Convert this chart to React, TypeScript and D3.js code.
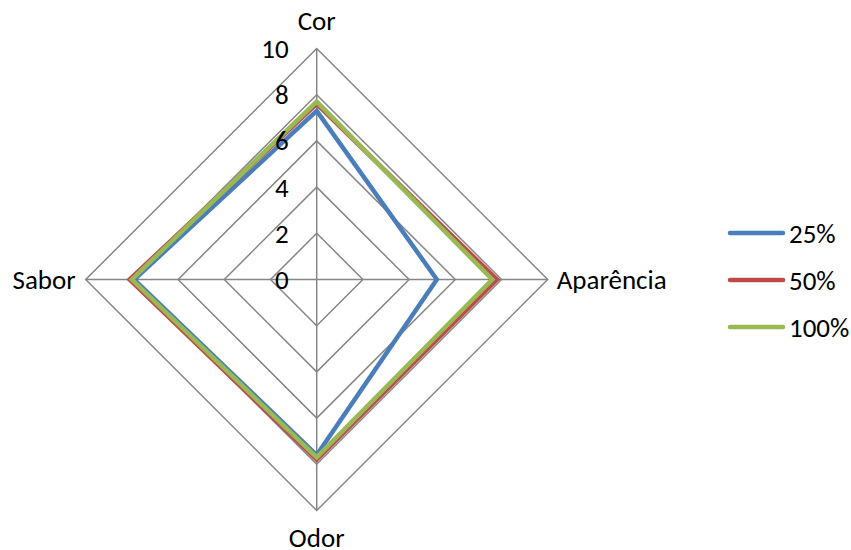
import React from "react";
import * as d3 from "d3";

const axes = ["Cor", "Aparência", "Odor", "Sabor"];
const seriesNames = ["25%", "50%", "100%"];
const values25 = [7.3, 5.2, 7.6, 7.9];
const values50 = [7.6, 7.8, 7.8, 8.1];
const values100 = [7.7, 7.6, 7.7, 8.0];
const ticks = [0, 2, 4, 6, 8, 10];
const colors = ["#4A7EBB", "#BE4B48", "#98B954"];

const W = 851;
const H = 550;
const cx = 316.7;
const cy = 279.5;
const R = 231;
const font = "Carlito, Calibri, 'Open Sans', sans-serif";
const fs = 27;

export default function App() {
  const r = d3.scaleLinear().domain([0, 10]).range([0, R]);
  const angle = (i: number) => (i * 2 * Math.PI) / axes.length;
  const pt = (i: number, v: number): [number, number] => [
    cx + r(v) * Math.sin(angle(i)),
    cy - r(v) * Math.cos(angle(i)),
  ];
  const closed = d3.line<[number, number]>().curve(d3.curveLinearClosed);
  const all = [values25, values50, values100];

  return (
    <svg width={W} height={H} style={{ position: "absolute", left: 0, top: 0 }}>
      <rect width={W} height={H} fill="#fff" />
      {ticks.filter((t) => t > 0).map((t) => (
        <path
          key={t}
          d={closed(axes.map((_, i) => pt(i, t))) || ""}
          fill="none"
          stroke="#868686"
          strokeWidth={1.5}
        />
      ))}
      {axes.map((_, i) => {
        const [x, y] = pt(i, 10);
        return <line key={i} x1={cx} y1={cy} x2={x} y2={y} stroke="#868686" strokeWidth={1.5} />;
      })}
      {all.map((vals, s) => (
        <path
          key={s}
          d={closed(vals.map((v, i) => pt(i, v))) || ""}
          fill="none"
          stroke={colors[s]}
          strokeWidth={4.5}
          strokeLinejoin="miter"
        />
      ))}
      {ticks.map((t) => (
        <text
          key={t}
          x={cx - 28}
          y={cy - r(t)}
          textAnchor="end"
          dominantBaseline="central"
          fontFamily={font}
          fontSize={fs}
          fill="#000"
        >
          {t}
        </text>
      ))}
      <text x={cx} y={20} textAnchor="middle" dominantBaseline="central" fontFamily={font} fontSize={fs}>
        {axes[0]}
      </text>
      <text x={cx + R + 9} y={cy} textAnchor="start" dominantBaseline="central" fontFamily={font} fontSize={fs}>
        {axes[1]}
      </text>
      <text x={cx} y={537} textAnchor="middle" dominantBaseline="central" fontFamily={font} fontSize={fs}>
        {axes[2]}
      </text>
      <text x={cx - R - 10} y={cy} textAnchor="end" dominantBaseline="central" fontFamily={font} fontSize={fs}>
        {axes[3]}
      </text>
      {seriesNames.map((name, s) => {
        const y = 233 + s * 47;
        return (
          <g key={name}>
            <line x1={730} x2={783} y1={y} y2={y} stroke={colors[s]} strokeWidth={4.5} strokeLinecap="round" />
            <text x={789} y={y} dominantBaseline="central" fontFamily={font} fontSize={fs}>
              {name}
            </text>
          </g>
        );
      })}
    </svg>
  );
}
